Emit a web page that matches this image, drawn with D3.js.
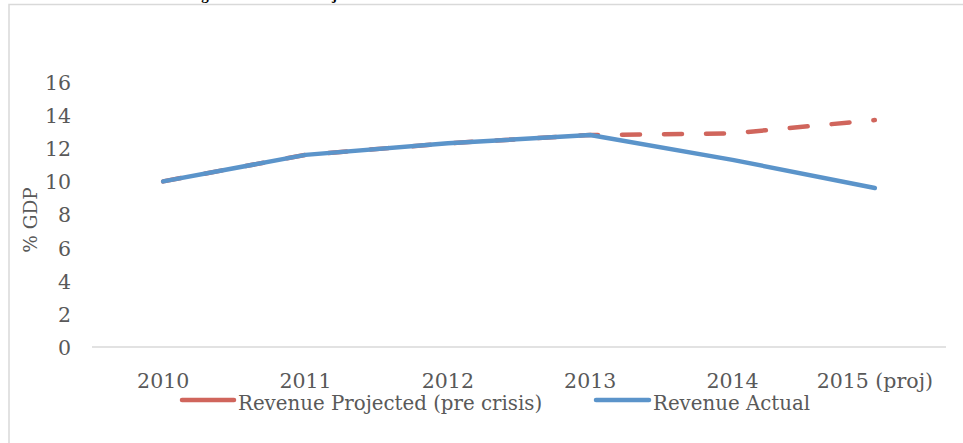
<!DOCTYPE html>
<html><head><meta charset="utf-8">
<script src="https://cdn.jsdelivr.net/npm/d3@7"></script>
<style>
html,body{margin:0;padding:0;background:#fff;}
svg{display:block;}
</style></head>
<body>
<script>
const categories = ["2010","2011","2012","2013","2014","2015 (proj)"];
const projected = [10.0, 11.6, 12.3, 12.8, 12.9, 13.7];
const actual = [10.0, 11.6, 12.3, 12.8, 11.3, 9.6];
const yTicks = [0,2,4,6,8,10,12,14,16];
const seriesNames = ["Revenue Projected (pre crisis)", "Revenue Actual"];
const titleText = "Figure 4: Revenue Projected vs Actual";

const W = 963, H = 443;
const FONT = "'DejaVu Serif', 'Liberation Serif', serif";
const FS = 20.5;
const svg = d3.select("body").append("svg").attr("width", W).attr("height", H);

// cropped title (only descenders visible, as in the reference)
svg.append("defs").append("clipPath").attr("id","tclip")
  .append("rect").attr("x",0).attr("y",0).attr("width",W).attr("height",4);
svg.append("text").attr("clip-path","url(#tclip)")
  .attr("x",188).attr("y",-0.5).attr("font-family","'Liberation Serif', serif")
  .attr("font-weight","bold").attr("font-size",15).attr("fill","#000").text(titleText);

// border
svg.append("path").attr("d","M9,443 L9,4.5 L963,4.5").attr("fill","none")
  .attr("stroke","#d9d9d9").attr("stroke-width",1.5);

const x = d3.scaleBand().domain(categories).range([92, 946]);
const y = d3.scaleLinear().domain([0,16]).range([347, 82]);
const cx = d => x(d) + x.bandwidth()/2;

// y labels
const yAxis = d3.axisLeft(y).tickValues(yTicks).tickSize(0).tickPadding(0);
const ya = svg.append("g").attr("transform","translate(71,0)").call(yAxis);
ya.select(".domain").remove();
ya.selectAll("text").attr("font-family",FONT).attr("font-size",FS).attr("fill","#595959").attr("dy","0.36em");

// x axis line
svg.append("line").attr("x1",92).attr("x2",946).attr("y1",y(0)).attr("y2",y(0))
  .attr("stroke","#d9d9d9").attr("stroke-width",1.5);
const xAxis = d3.axisBottom(x).tickSize(0).tickPadding(0);
const xa = svg.append("g").attr("transform","translate(0,388)").call(xAxis);
xa.select(".domain").remove();
xa.selectAll("text").attr("font-family",FONT).attr("font-size",FS).attr("fill","#595959").attr("dy",0);

// y title
svg.append("text").attr("transform","translate(37,220) rotate(-90)")
  .attr("text-anchor","middle").attr("font-family",FONT).attr("font-size",18.5)
  .attr("fill","#595959").text("% GDP");

const line = d3.line().x((d,i)=>cx(categories[i])).y(d=>y(d));
const RED = "#d0655c", BLUE = "#5b94ca";

svg.append("path").datum(projected).attr("d",line).attr("fill","none")
  .attr("stroke",RED).attr("stroke-width",4.5).attr("stroke-linecap","round")
  .attr("stroke-linejoin","round").attr("stroke-dasharray","18,24").attr("stroke-dashoffset",0);
svg.append("path").datum(actual).attr("d",line).attr("fill","none")
  .attr("stroke",BLUE).attr("stroke-width",4.5).attr("stroke-linecap","round")
  .attr("stroke-linejoin","round");

// legend
const lg = [{c:RED,x1:182,x2:234,tx:238,name:seriesNames[0]},{c:BLUE,x1:596,x2:649,tx:653,name:seriesNames[1]}];
lg.forEach(l=>{
  svg.append("line").attr("x1",l.x1).attr("x2",l.x2).attr("y1",400).attr("y2",400)
    .attr("stroke",l.c).attr("stroke-width",4.5).attr("stroke-linecap","round");
  svg.append("text").attr("x",l.tx).attr("y",410).attr("font-family",FONT).attr("font-size",19.8)
    .attr("fill","#595959").text(l.name);
});
</script>
</body></html>
